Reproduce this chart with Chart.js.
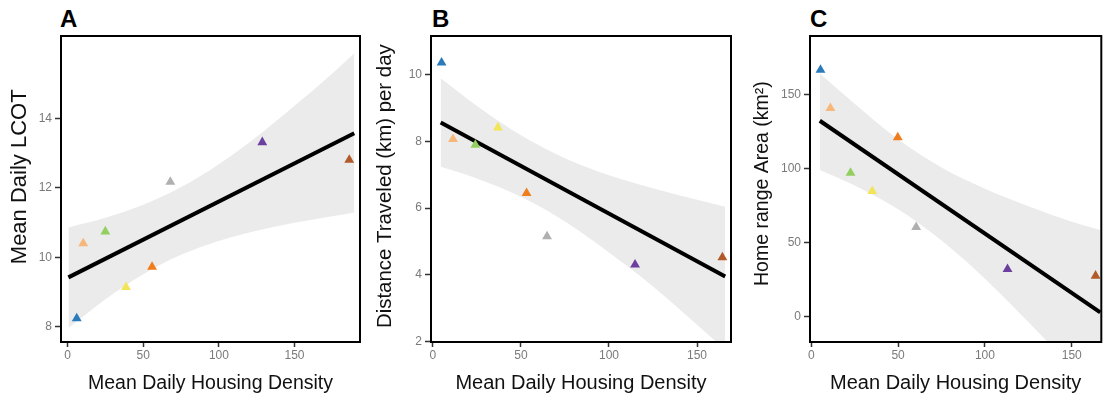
<!DOCTYPE html>
<html lang="en">
<head>
<meta charset="UTF-8">
<title>Housing density panels</title>
<script src="https://cdn.jsdelivr.net/npm/chart.js@4.4.1/dist/chart.umd.min.js"></script>
<style>
  body { margin: 0; background: #fff; width: 1107px; height: 401px; position: relative; overflow: hidden; }
  canvas { position: absolute; top: 0; }
  .tag { position: absolute; top: 7px; font: bold 24px "Liberation Sans", Arial, sans-serif; line-height: 24px; color: #000; }
</style>
</head>
<body>
<div class="tag" style="left:60px">A</div>
<div class="tag" style="left:432px">B</div>
<div class="tag" style="left:810px">C</div>
<canvas id="cA" width="370" height="401" style="left:0px"></canvas>
<canvas id="cB" width="370" height="401" style="left:370px"></canvas>
<canvas id="cC" width="367" height="401" style="left:740px"></canvas>

<script>
// colours of the 8 groups (same order in every panel)
const groupColors = ['#2b7bba', '#f5b77a', '#92cf5f', '#f2e55a', '#ef7d1d', '#b0b0b0', '#6a3f9e', '#b2592a'];

// panel A - Mean Daily LCOT
const densityA = [6, 10.3, 24.9, 38.6, 55.8, 67.9, 128.7, 186.2];
const lcotA    = [8.24, 10.4, 10.74, 9.14, 9.72, 12.17, 13.31, 12.8];
const fitXA = [0.5, 189.5];
const fitYA = [9.42, 13.57];
const bandXA = [0.5, 25, 50, 75, 100, 125, 150, 175, 189.5];
const bandHiA = [10.86, 11.14, 11.51, 12.02, 12.68, 13.47, 14.36, 15.29, 15.87];
const bandLoA = [7.96, 8.79, 9.51, 10.07, 10.47, 10.76, 10.99, 11.18, 11.29];
const xTicksA = [0, 50, 100, 150];
const yTicksA = [8, 10, 12, 14];

// panel B - Distance travelled per day
const densityB = [4.9, 11.4, 24.1, 36.9, 53.2, 64.8, 114.8, 164.4];
const distB    = [10.37, 8.07, 7.9, 8.42, 6.45, 5.15, 4.3, 4.52];
const fitXB = [4.4, 166];
const fitYB = [8.57, 3.95];
const bandXB = [4.4, 25, 50, 75, 100, 125, 150, 166];
const bandHiB = [9.90, 9.07, 8.19, 7.50, 6.99, 6.60, 6.25, 6.04];
const bandLoB = [7.24, 6.89, 6.34, 5.60, 4.67, 3.65, 2.50, 1.75];
const xTicksB = [0, 50, 100, 150];
const yTicksB = [2, 4, 6, 8, 10];

// panel C - Home range area
const densityC = [5.3, 11, 22.6, 35.1, 49.8, 60.4, 113, 163.7];
const rangeC   = [166.4, 140.6, 97, 84.7, 120.9, 60.5, 32.2, 27.7];
const fitXC = [4.9, 166.4];
const fitYC = [132.2, 3.0];
const bandXC = [4.9, 25, 50, 75, 100, 125, 150, 166.4];
const bandHiC = [164, 143.7, 119.7, 100.7, 86.4, 74.6, 64.2, 58.5];
const bandLoC = [99, 88.5, 72.5, 51.5, 25.8, -3.5, -34, -54];
const xTicksC = [0, 50, 100, 150];
const yTicksC = [0, 50, 100, 150];

const FONT = '"Liberation Sans", Arial, sans-serif';
const NB = '\u00a0';

// black box round the plot area
const framePlugin = {
  id: 'frame',
  afterDatasetsDraw(chart) {
    const a = chart.chartArea, ctx = chart.ctx;
    ctx.save();
    ctx.strokeStyle = '#000';
    ctx.lineWidth = 2;
    ctx.strokeRect(a.left, a.top, a.right - a.left, a.bottom - a.top);
    ctx.restore();
  }
};

function pts(xs, ys) {
  return xs.map(function (x, i) { return { x: x, y: ys[i] }; });
}

function makePanel(id, p) {
  new Chart(document.getElementById(id), {
    type: 'scatter',
    data: {
      datasets: [
        {
          data: pts(p.xs, p.ys), order: 0, clip: false,
          pointStyle: 'triangle', pointRadius: 5.7, pointHoverRadius: 5.7,
          pointBackgroundColor: groupColors, pointBorderWidth: 0, showLine: false
        },
        {
          data: pts(p.fitX, p.fitY), order: 1, showLine: true,
          borderColor: '#000', borderWidth: 4, pointRadius: 0, borderCapStyle: 'butt'
        },
        {
          data: pts(p.bandX, p.bandHi), order: 2, showLine: true, fill: '+1',
          backgroundColor: '#ebebeb', borderWidth: 0, borderColor: 'rgba(0,0,0,0)',
          pointRadius: 0, cubicInterpolationMode: 'monotone'
        },
        {
          data: pts(p.bandX, p.bandLo), order: 3, showLine: true, fill: false,
          borderWidth: 0, borderColor: 'rgba(0,0,0,0)', pointRadius: 0,
          cubicInterpolationMode: 'monotone'
        }
      ]
    },
    options: {
      responsive: false,
      animation: false,
      devicePixelRatio: 1,
      layout: { padding: { top: 36, right: p.padRight, left: 0, bottom: 0 } },
      plugins: { legend: { display: false }, tooltip: { enabled: false } },
      scales: {
        x: {
          type: 'linear', min: p.xMin, max: p.xMax,
          afterBuildTicks: function (s) { s.ticks = p.xTicks.map(function (v) { return { value: v }; }); },
          afterFit: function (s) { s.height = 59; },
          grid: { drawOnChartArea: false, tickLength: 5, tickColor: '#333', tickWidth: 1.5 },
          border: { display: false },
          ticks: { color: '#7a7a7a', padding: 1, font: { family: FONT, size: 12 }, maxRotation: 0 },
          title: { display: true, text: 'Mean Daily Housing Density', color: '#111',
                   font: { family: FONT, size: p.xTitleSize }, padding: { top: 0, bottom: 6 } }
        },
        y: {
          type: 'linear', min: p.yMin, max: p.yMax,
          afterBuildTicks: function (s) { s.ticks = p.yTicks.map(function (v) { return { value: v }; }); },
          afterFit: function (s) { s.width = p.yWidth; },
          grid: { drawOnChartArea: false, tickLength: 6, tickColor: '#333', tickWidth: 1.5 },
          border: { display: false },
          ticks: { color: '#7a7a7a', padding: 3, font: { family: FONT, size: 12 } },
          title: { display: true, text: p.yTitle, color: '#111',
                   font: { family: FONT, size: p.yTitleSize }, padding: { top: p.yTitlePad, bottom: 0 } }
        }
      }
    },
    plugins: [framePlugin]
  });
}

makePanel('cA', {
  xs: densityA, ys: lcotA, fitX: fitXA, fitY: fitYA,
  bandX: bandXA, bandHi: bandHiA, bandLo: bandLoA,
  xTicks: xTicksA, yTicks: yTicksA,
  xMin: -4.4, xMax: 193.3, yMin: 7.56, yMax: 16.37,
  yWidth: 61, padRight: 10,
  yTitle: NB + NB + NB + NB + 'Mean Daily LCOT', yTitleSize: 22, yTitlePad: 7, xTitleSize: 19.5
});

makePanel('cB', {
  xs: densityB, ys: distB, fitX: fitXB, fitY: fitYB,
  bandX: bandXB, bandHi: bandHiB, bandLo: bandLoB,
  xTicks: xTicksB, yTicks: yTicksB,
  xMin: -1.1, xMax: 169.3, yMin: 1.98, yMax: 11.17,
  yWidth: 61, padRight: 9,
  yTitle: NB + 'Distance Traveled (km) per day', yTitleSize: 20.4, yTitlePad: 3, xTitleSize: 20
});

makePanel('cC', {
  xs: densityC, ys: rangeC, fitX: fitXC, fitY: fitYC,
  bandX: bandXC, bandHi: bandHiC, bandLo: bandLoC,
  xTicks: xTicksC, yTicks: yTicksC,
  xMin: -0.74, xMax: 167, yMin: -16.9, yMax: 189.3,
  yWidth: 70, padRight: 3,
  yTitle: NB + NB + 'Home range Area (km²)', yTitleSize: 19.5, yTitlePad: 11, xTitleSize: 20
});
</script>
</body>
</html>
